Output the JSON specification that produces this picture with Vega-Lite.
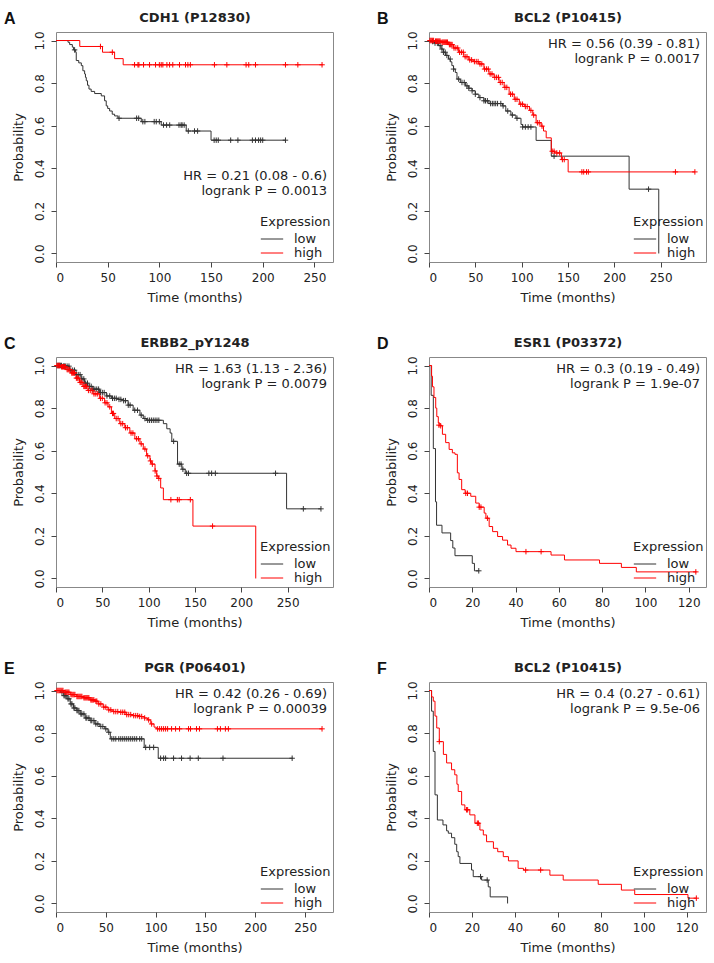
{
"$schema":"https://vega.github.io/schema/vega-lite/v6.json",
"padding":{"left":3,"top":10,"right":2,"bottom":2},
"config":{
 "font":"DejaVu Sans",
 "view":{"stroke":"#888888","strokeWidth":1},
 "axis":{"domain":false,"grid":false,"tickSize":5,"tickColor":"#444","labelFontSize":12,"labelColor":"#222","titleFontSize":13,"titleFontWeight":"normal","titleColor":"#222","labelPadding":5,"titlePadding":8},
 "axisY":{"labelAngle":-90,"labelAlign":"center","labelBaseline":"bottom","labelPadding":5,"titlePadding":8},
 "axisTop":{"titleFontWeight":"bold","titleFontSize":13,"titlePadding":8,"labels":false,"ticks":false,"domain":false},
 "legend":{"orient":"bottom-right","offset":2,"titleFontSize":13,"titleFontWeight":"normal","labelFontSize":13,"symbolType":"stroke","symbolSize":500,"symbolStrokeWidth":1,"rowPadding":0,"clipHeight":14,"titlePadding":3,"labelOffset":10,"titleColor":"#222","labelColor":"#222"},
 "title":{"anchor":"start","frame":"bounds","fontSize":16,"font":"Liberation Sans","fontWeight":"bold","offset":-16,"dx":-8,"color":"#111"}
},
"datasets":{
"A_curve":[
{"g":"low","t":0,"s":1},{"g":"low","t":11.6,"s":0.992},{"g":"low","t":13.2,"s":0.981},{"g":"low","t":15.8,"s":0.969},{"g":"low","t":17,"s":0.956},{"g":"low","t":19,"s":0.945},{"g":"low","t":19.6,"s":0.906},{"g":"low","t":22,"s":0.895},{"g":"low","t":24.5,"s":0.882},{"g":"low","t":26,"s":0.858},{"g":"low","t":27.7,"s":0.843},{"g":"low","t":28.5,"s":0.827},{"g":"low","t":29.3,"s":0.811},{"g":"low","t":30.5,"s":0.79},{"g":"low","t":31.9,"s":0.772},{"g":"low","t":34,"s":0.761},{"g":"low","t":37.4,"s":0.751},{"g":"low","t":43.8,"s":0.74},{"g":"low","t":47,"s":0.717},{"g":"low","t":48.6,"s":0.693},{"g":"low","t":50,"s":0.681},{"g":"low","t":51.9,"s":0.669},{"g":"low","t":54.4,"s":0.654},{"g":"low","t":56.7,"s":0.646},{"g":"low","t":59.9,"s":0.635},{"g":"low","t":82.5,"s":0.619},{"g":"low","t":101.8,"s":0.603},{"g":"low","t":126,"s":0.575},{"g":"low","t":150,"s":0.532},{"g":"low","t":222,"s":0.532},
{"g":"high","t":0,"s":1},{"g":"high","t":23,"s":0.972},{"g":"high","t":45,"s":0.945},{"g":"high","t":56.7,"s":0.915},{"g":"high","t":65,"s":0.886},{"g":"high","t":258,"s":0.886}],
"A_cens":[
{"g":"low","t":18,"s":0.956},{"g":"low","t":61,"s":0.635},{"g":"low","t":78,"s":0.635},{"g":"low","t":80,"s":0.635},{"g":"low","t":84,"s":0.619},{"g":"low","t":86,"s":0.619},{"g":"low","t":95,"s":0.619},{"g":"low","t":97,"s":0.619},{"g":"low","t":100,"s":0.619},{"g":"low","t":104,"s":0.603},{"g":"low","t":107,"s":0.603},{"g":"low","t":110,"s":0.603},{"g":"low","t":119,"s":0.603},{"g":"low","t":121,"s":0.603},{"g":"low","t":122,"s":0.603},{"g":"low","t":124,"s":0.603},{"g":"low","t":128,"s":0.575},{"g":"low","t":134,"s":0.575},{"g":"low","t":137,"s":0.575},{"g":"low","t":153,"s":0.532},{"g":"low","t":155,"s":0.532},{"g":"low","t":157,"s":0.532},{"g":"low","t":169,"s":0.532},{"g":"low","t":176,"s":0.532},{"g":"low","t":190,"s":0.532},{"g":"low","t":193,"s":0.532},{"g":"low","t":196,"s":0.532},{"g":"low","t":198,"s":0.532},{"g":"low","t":200,"s":0.532},{"g":"low","t":222,"s":0.532},
{"g":"high","t":43,"s":0.972},{"g":"high","t":54.5,"s":0.945},{"g":"high","t":76,"s":0.886},{"g":"high","t":79.3,"s":0.886},{"g":"high","t":80.2,"s":0.886},{"g":"high","t":84.7,"s":0.886},{"g":"high","t":90.5,"s":0.886},{"g":"high","t":96.3,"s":0.886},{"g":"high","t":100,"s":0.886},{"g":"high","t":101.8,"s":0.886},{"g":"high","t":103.4,"s":0.886},{"g":"high","t":107.3,"s":0.886},{"g":"high","t":109.9,"s":0.886},{"g":"high","t":113,"s":0.886},{"g":"high","t":119.5,"s":0.886},{"g":"high","t":125.3,"s":0.886},{"g":"high","t":127.6,"s":0.886},{"g":"high","t":130,"s":0.886},{"g":"high","t":153.3,"s":0.886},{"g":"high","t":165.3,"s":0.886},{"g":"high","t":183.9,"s":0.886},{"g":"high","t":186.5,"s":0.886},{"g":"high","t":193,"s":0.886},{"g":"high","t":222,"s":0.886},{"g":"high","t":234,"s":0.886},{"g":"high","t":257.4,"s":0.886}],
"B_curve":[
{"g":"low","t":0,"s":1},{"g":"low","t":3,"s":0.995},{"g":"low","t":6,"s":0.988},{"g":"low","t":10.2,"s":0.976},{"g":"low","t":13,"s":0.96},{"g":"low","t":15.6,"s":0.945},{"g":"low","t":18,"s":0.93},{"g":"low","t":21.1,"s":0.913},{"g":"low","t":23,"s":0.9},{"g":"low","t":24.7,"s":0.882},{"g":"low","t":26.5,"s":0.866},{"g":"low","t":28.4,"s":0.85},{"g":"low","t":30.2,"s":0.819},{"g":"low","t":33.8,"s":0.803},{"g":"low","t":39.3,"s":0.787},{"g":"low","t":43,"s":0.776},{"g":"low","t":46.5,"s":0.764},{"g":"low","t":50,"s":0.748},{"g":"low","t":53.8,"s":0.732},{"g":"low","t":59.3,"s":0.717},{"g":"low","t":64.7,"s":0.704},{"g":"low","t":79.3,"s":0.693},{"g":"low","t":82.9,"s":0.669},{"g":"low","t":88.4,"s":0.65},{"g":"low","t":93.8,"s":0.635},{"g":"low","t":99.3,"s":0.606},{"g":"low","t":101.1,"s":0.594},{"g":"low","t":115.6,"s":0.531},{"g":"low","t":132,"s":0.457},{"g":"low","t":216,"s":0.302},{"g":"low","t":248,"s":0},
{"g":"high","t":0,"s":1},{"g":"high","t":6.5,"s":0.997},{"g":"high","t":13.8,"s":0.992},{"g":"high","t":21.1,"s":0.981},{"g":"high","t":26.5,"s":0.965},{"g":"high","t":32,"s":0.945},{"g":"high","t":37.5,"s":0.924},{"g":"high","t":42.9,"s":0.909},{"g":"high","t":48.4,"s":0.901},{"g":"high","t":53.8,"s":0.89},{"g":"high","t":59.3,"s":0.866},{"g":"high","t":64.7,"s":0.843},{"g":"high","t":70.2,"s":0.827},{"g":"high","t":75.6,"s":0.803},{"g":"high","t":81.1,"s":0.78},{"g":"high","t":86.5,"s":0.748},{"g":"high","t":92,"s":0.724},{"g":"high","t":97.5,"s":0.701},{"g":"high","t":102.9,"s":0.69},{"g":"high","t":108.4,"s":0.672},{"g":"high","t":112,"s":0.65},{"g":"high","t":115.6,"s":0.614},{"g":"high","t":121,"s":0.598},{"g":"high","t":123.6,"s":0.575},{"g":"high","t":126.5,"s":0.543},{"g":"high","t":132,"s":0.48},{"g":"high","t":135.6,"s":0.472},{"g":"high","t":142.9,"s":0.441},{"g":"high","t":150.2,"s":0.383},{"g":"high","t":287,"s":0.383}],
"B_cens":[
{"g":"low","t":4,"s":0.995},{"g":"low","t":6.5,"s":0.988},{"g":"low","t":9,"s":0.988},{"g":"low","t":12,"s":0.976},{"g":"low","t":14,"s":0.96},{"g":"low","t":15.6,"s":0.945},{"g":"low","t":17.5,"s":0.945},{"g":"low","t":19.3,"s":0.93},{"g":"low","t":22.9,"s":0.913},{"g":"low","t":26.5,"s":0.866},{"g":"low","t":32,"s":0.819},{"g":"low","t":35.6,"s":0.803},{"g":"low","t":38,"s":0.803},{"g":"low","t":41,"s":0.787},{"g":"low","t":43,"s":0.776},{"g":"low","t":46.5,"s":0.764},{"g":"low","t":50,"s":0.748},{"g":"low","t":55,"s":0.732},{"g":"low","t":59.3,"s":0.717},{"g":"low","t":61,"s":0.717},{"g":"low","t":63,"s":0.717},{"g":"low","t":66.5,"s":0.704},{"g":"low","t":68.4,"s":0.704},{"g":"low","t":70.2,"s":0.704},{"g":"low","t":72,"s":0.704},{"g":"low","t":74,"s":0.704},{"g":"low","t":77.5,"s":0.704},{"g":"low","t":80,"s":0.693},{"g":"low","t":85,"s":0.669},{"g":"low","t":90,"s":0.65},{"g":"low","t":95,"s":0.635},{"g":"low","t":101.1,"s":0.594},{"g":"low","t":104,"s":0.594},{"g":"low","t":107,"s":0.594},{"g":"low","t":110,"s":0.594},{"g":"low","t":135,"s":0.457},{"g":"low","t":237,"s":0.302},
{"g":"high","t":1,"s":1},{"g":"high","t":2,"s":1},{"g":"high","t":3,"s":1},{"g":"high","t":4,"s":1},{"g":"high","t":5,"s":1},{"g":"high","t":7,"s":0.997},{"g":"high","t":8,"s":0.997},{"g":"high","t":9,"s":0.997},{"g":"high","t":10,"s":0.997},{"g":"high","t":11,"s":0.997},{"g":"high","t":12,"s":0.997},{"g":"high","t":14,"s":0.992},{"g":"high","t":15,"s":0.992},{"g":"high","t":16,"s":0.992},{"g":"high","t":17,"s":0.992},{"g":"high","t":18,"s":0.992},{"g":"high","t":19,"s":0.992},{"g":"high","t":20,"s":0.992},{"g":"high","t":22,"s":0.981},{"g":"high","t":23,"s":0.981},{"g":"high","t":24,"s":0.981},{"g":"high","t":25,"s":0.981},{"g":"high","t":27,"s":0.965},{"g":"high","t":29,"s":0.965},{"g":"high","t":31,"s":0.965},{"g":"high","t":33,"s":0.945},{"g":"high","t":35,"s":0.945},{"g":"high","t":37,"s":0.945},{"g":"high","t":39,"s":0.924},{"g":"high","t":41,"s":0.924},{"g":"high","t":44,"s":0.909},{"g":"high","t":46,"s":0.909},{"g":"high","t":49,"s":0.901},{"g":"high","t":51,"s":0.901},{"g":"high","t":53,"s":0.901},{"g":"high","t":55,"s":0.89},{"g":"high","t":57,"s":0.89},{"g":"high","t":60,"s":0.866},{"g":"high","t":62,"s":0.866},{"g":"high","t":64,"s":0.866},{"g":"high","t":66,"s":0.843},{"g":"high","t":68,"s":0.843},{"g":"high","t":71,"s":0.827},{"g":"high","t":73,"s":0.827},{"g":"high","t":75,"s":0.827},{"g":"high","t":77,"s":0.803},{"g":"high","t":79,"s":0.803},{"g":"high","t":82,"s":0.78},{"g":"high","t":84,"s":0.78},{"g":"high","t":88,"s":0.748},{"g":"high","t":90,"s":0.748},{"g":"high","t":93,"s":0.724},{"g":"high","t":95,"s":0.724},{"g":"high","t":99,"s":0.701},{"g":"high","t":101,"s":0.701},{"g":"high","t":104,"s":0.69},{"g":"high","t":106,"s":0.69},{"g":"high","t":110,"s":0.672},{"g":"high","t":113,"s":0.65},{"g":"high","t":117,"s":0.614},{"g":"high","t":119,"s":0.614},{"g":"high","t":122,"s":0.598},{"g":"high","t":133,"s":0.48},{"g":"high","t":135,"s":0.48},{"g":"high","t":138,"s":0.472},{"g":"high","t":141,"s":0.472},{"g":"high","t":144,"s":0.441},{"g":"high","t":146,"s":0.441},{"g":"high","t":165,"s":0.383},{"g":"high","t":167,"s":0.383},{"g":"high","t":170,"s":0.383},{"g":"high","t":172,"s":0.383},{"g":"high","t":266,"s":0.383},{"g":"high","t":287,"s":0.383}],
"C_curve":[
{"g":"low","t":0,"s":1},{"g":"low","t":7.2,"s":0.997},{"g":"low","t":14.5,"s":0.978},{"g":"low","t":21.7,"s":0.957},{"g":"low","t":27.2,"s":0.937},{"g":"low","t":30.8,"s":0.917},{"g":"low","t":34.4,"s":0.902},{"g":"low","t":39.9,"s":0.889},{"g":"low","t":47.1,"s":0.873},{"g":"low","t":54.3,"s":0.857},{"g":"low","t":59.8,"s":0.846},{"g":"low","t":67,"s":0.841},{"g":"low","t":72.5,"s":0.835},{"g":"low","t":77.9,"s":0.814},{"g":"low","t":83.3,"s":0.79},{"g":"low","t":90.6,"s":0.767},{"g":"low","t":94.2,"s":0.751},{"g":"low","t":97.8,"s":0.743},{"g":"low","t":115.9,"s":0.727},{"g":"low","t":119.6,"s":0.703},{"g":"low","t":123.2,"s":0.683},{"g":"low","t":125,"s":0.644},{"g":"low","t":131.2,"s":0.537},{"g":"low","t":135.9,"s":0.513},{"g":"low","t":139.5,"s":0.494},{"g":"low","t":248.9,"s":0.327},{"g":"low","t":286,"s":0.327},
{"g":"high","t":0,"s":1},{"g":"high","t":5.4,"s":0.994},{"g":"high","t":10.9,"s":0.981},{"g":"high","t":16.3,"s":0.965},{"g":"high","t":21.7,"s":0.941},{"g":"high","t":25.4,"s":0.921},{"g":"high","t":29,"s":0.902},{"g":"high","t":34.4,"s":0.883},{"g":"high","t":39.9,"s":0.867},{"g":"high","t":47.1,"s":0.846},{"g":"high","t":52.5,"s":0.825},{"g":"high","t":56.2,"s":0.806},{"g":"high","t":59.8,"s":0.775},{"g":"high","t":63.4,"s":0.751},{"g":"high","t":68.8,"s":0.727},{"g":"high","t":74.3,"s":0.708},{"g":"high","t":79.7,"s":0.683},{"g":"high","t":85.1,"s":0.656},{"g":"high","t":90.6,"s":0.632},{"g":"high","t":94.2,"s":0.608},{"g":"high","t":97.8,"s":0.576},{"g":"high","t":101.4,"s":0.552},{"g":"high","t":103.3,"s":0.537},{"g":"high","t":106.9,"s":0.505},{"g":"high","t":108.7,"s":0.481},{"g":"high","t":110.5,"s":0.47},{"g":"high","t":113,"s":0.425},{"g":"high","t":115.9,"s":0.37},{"g":"high","t":147.8,"s":0.246},{"g":"high","t":215.6,"s":0}],
"C_cens":[
{"g":"low","t":2,"s":1},{"g":"low","t":3,"s":1},{"g":"low","t":4,"s":1},{"g":"low","t":5,"s":1},{"g":"low","t":6,"s":1},{"g":"low","t":8,"s":0.997},{"g":"low","t":9,"s":0.997},{"g":"low","t":10,"s":0.997},{"g":"low","t":12,"s":0.997},{"g":"low","t":14,"s":0.997},{"g":"low","t":16,"s":0.978},{"g":"low","t":18,"s":0.978},{"g":"low","t":20,"s":0.978},{"g":"low","t":22,"s":0.957},{"g":"low","t":24,"s":0.957},{"g":"low","t":26,"s":0.957},{"g":"low","t":28,"s":0.937},{"g":"low","t":30,"s":0.937},{"g":"low","t":32,"s":0.917},{"g":"low","t":34,"s":0.917},{"g":"low","t":36,"s":0.902},{"g":"low","t":38,"s":0.902},{"g":"low","t":40,"s":0.889},{"g":"low","t":42,"s":0.889},{"g":"low","t":44,"s":0.889},{"g":"low","t":46,"s":0.889},{"g":"low","t":48,"s":0.873},{"g":"low","t":50,"s":0.873},{"g":"low","t":52,"s":0.873},{"g":"low","t":55,"s":0.857},{"g":"low","t":58,"s":0.857},{"g":"low","t":61,"s":0.846},{"g":"low","t":63,"s":0.846},{"g":"low","t":65,"s":0.846},{"g":"low","t":68,"s":0.841},{"g":"low","t":70,"s":0.841},{"g":"low","t":73,"s":0.835},{"g":"low","t":75,"s":0.835},{"g":"low","t":78,"s":0.814},{"g":"low","t":80,"s":0.814},{"g":"low","t":85,"s":0.79},{"g":"low","t":88,"s":0.79},{"g":"low","t":92,"s":0.767},{"g":"low","t":96,"s":0.751},{"g":"low","t":99,"s":0.743},{"g":"low","t":101,"s":0.743},{"g":"low","t":103,"s":0.743},{"g":"low","t":105,"s":0.743},{"g":"low","t":107,"s":0.743},{"g":"low","t":109,"s":0.743},{"g":"low","t":111,"s":0.743},{"g":"low","t":127,"s":0.644},{"g":"low","t":133,"s":0.537},{"g":"low","t":135,"s":0.537},{"g":"low","t":137,"s":0.513},{"g":"low","t":141,"s":0.494},{"g":"low","t":143,"s":0.494},{"g":"low","t":165,"s":0.494},{"g":"low","t":168,"s":0.494},{"g":"low","t":172,"s":0.494},{"g":"low","t":237,"s":0.494},{"g":"low","t":267,"s":0.327},{"g":"low","t":286,"s":0.327},
{"g":"high","t":1,"s":1},{"g":"high","t":2,"s":1},{"g":"high","t":3,"s":1},{"g":"high","t":4,"s":1},{"g":"high","t":6,"s":0.994},{"g":"high","t":7,"s":0.994},{"g":"high","t":8,"s":0.994},{"g":"high","t":9,"s":0.994},{"g":"high","t":10,"s":0.994},{"g":"high","t":12,"s":0.981},{"g":"high","t":13,"s":0.981},{"g":"high","t":14,"s":0.981},{"g":"high","t":15,"s":0.981},{"g":"high","t":17,"s":0.965},{"g":"high","t":18,"s":0.965},{"g":"high","t":19,"s":0.965},{"g":"high","t":20,"s":0.965},{"g":"high","t":22,"s":0.941},{"g":"high","t":23,"s":0.941},{"g":"high","t":24,"s":0.941},{"g":"high","t":26,"s":0.921},{"g":"high","t":27,"s":0.921},{"g":"high","t":28,"s":0.921},{"g":"high","t":30,"s":0.902},{"g":"high","t":31,"s":0.902},{"g":"high","t":32,"s":0.902},{"g":"high","t":33,"s":0.902},{"g":"high","t":35,"s":0.883},{"g":"high","t":37,"s":0.883},{"g":"high","t":39,"s":0.883},{"g":"high","t":41,"s":0.867},{"g":"high","t":43,"s":0.867},{"g":"high","t":45,"s":0.867},{"g":"high","t":48,"s":0.846},{"g":"high","t":50,"s":0.846},{"g":"high","t":53,"s":0.825},{"g":"high","t":55,"s":0.825},{"g":"high","t":58,"s":0.806},{"g":"high","t":61,"s":0.775},{"g":"high","t":62,"s":0.775},{"g":"high","t":65,"s":0.751},{"g":"high","t":67,"s":0.751},{"g":"high","t":70,"s":0.727},{"g":"high","t":72,"s":0.727},{"g":"high","t":75,"s":0.708},{"g":"high","t":77,"s":0.708},{"g":"high","t":81,"s":0.683},{"g":"high","t":83,"s":0.683},{"g":"high","t":87,"s":0.656},{"g":"high","t":89,"s":0.656},{"g":"high","t":92,"s":0.632},{"g":"high","t":96,"s":0.608},{"g":"high","t":99,"s":0.576},{"g":"high","t":102,"s":0.552},{"g":"high","t":104,"s":0.537},{"g":"high","t":107,"s":0.505},{"g":"high","t":109,"s":0.481},{"g":"high","t":111,"s":0.47},{"g":"high","t":124,"s":0.37},{"g":"high","t":131,"s":0.37},{"g":"high","t":133,"s":0.37},{"g":"high","t":145,"s":0.37},{"g":"high","t":169,"s":0.246}],
"D_curve":[
{"g":"low","t":0,"s":1},{"g":"low","t":1,"s":0.86},{"g":"low","t":2,"s":0.61},{"g":"low","t":3,"s":0.36},{"g":"low","t":3.5,"s":0.25},{"g":"low","t":6,"s":0.214},{"g":"low","t":10,"s":0.178},{"g":"low","t":11,"s":0.143},{"g":"low","t":12,"s":0.107},{"g":"low","t":20,"s":0.071},{"g":"low","t":21,"s":0.036},{"g":"low","t":23,"s":0.036},
{"g":"high","t":0,"s":1},{"g":"high","t":1.2,"s":0.95},{"g":"high","t":1.6,"s":0.9},{"g":"high","t":2.3,"s":0.85},{"g":"high","t":3.1,"s":0.8},{"g":"high","t":3.6,"s":0.76},{"g":"high","t":4.3,"s":0.73},{"g":"high","t":5,"s":0.717},{"g":"high","t":6.2,"s":0.677},{"g":"high","t":7.7,"s":0.638},{"g":"high","t":9.3,"s":0.606},{"g":"high","t":10.8,"s":0.59},{"g":"high","t":12,"s":0.583},{"g":"high","t":13.1,"s":0.496},{"g":"high","t":13.9,"s":0.465},{"g":"high","t":15.1,"s":0.417},{"g":"high","t":16.7,"s":0.4},{"g":"high","t":19.3,"s":0.386},{"g":"high","t":21.6,"s":0.354},{"g":"high","t":23.2,"s":0.335},{"g":"high","t":25.5,"s":0.307},{"g":"high","t":26.3,"s":0.283},{"g":"high","t":27.8,"s":0.244},{"g":"high","t":29.4,"s":0.22},{"g":"high","t":31.7,"s":0.197},{"g":"high","t":34,"s":0.18},{"g":"high","t":36.3,"s":0.157},{"g":"high","t":37.9,"s":0.142},{"g":"high","t":40.2,"s":0.126},{"g":"high","t":56.4,"s":0.11},{"g":"high","t":62.6,"s":0.087},{"g":"high","t":78.8,"s":0.071},{"g":"high","t":88.9,"s":0.052},{"g":"high","t":95.8,"s":0.031},{"g":"high","t":123.6,"s":0.031}],
"D_cens":[
{"g":"low","t":23,"s":0.036},
{"g":"high","t":4.6,"s":0.72},{"g":"high","t":5.4,"s":0.717},{"g":"high","t":17,"s":0.4},{"g":"high","t":17.8,"s":0.4},{"g":"high","t":23.2,"s":0.335},{"g":"high","t":24,"s":0.335},{"g":"high","t":27,"s":0.283},{"g":"high","t":44.8,"s":0.126},{"g":"high","t":51.8,"s":0.126},{"g":"high","t":123.3,"s":0.031}],
"E_curve":[
{"g":"low","t":0,"s":1},{"g":"low","t":4.4,"s":0.992},{"g":"low","t":7.7,"s":0.976},{"g":"low","t":11,"s":0.961},{"g":"low","t":14.3,"s":0.937},{"g":"low","t":17.6,"s":0.918},{"g":"low","t":20.9,"s":0.906},{"g":"low","t":24.2,"s":0.89},{"g":"low","t":29.2,"s":0.871},{"g":"low","t":34.1,"s":0.859},{"g":"low","t":39,"s":0.843},{"g":"low","t":44,"s":0.831},{"g":"low","t":48.9,"s":0.82},{"g":"low","t":52.2,"s":0.804},{"g":"low","t":54.5,"s":0.773},{"g":"low","t":88.5,"s":0.733},{"g":"low","t":102.6,"s":0.682},{"g":"low","t":237.7,"s":0.682},
{"g":"high","t":0,"s":1},{"g":"high","t":7.7,"s":0.992},{"g":"high","t":14.3,"s":0.981},{"g":"high","t":20.9,"s":0.972},{"g":"high","t":27.5,"s":0.966},{"g":"high","t":34.1,"s":0.956},{"g":"high","t":39,"s":0.95},{"g":"high","t":42.3,"s":0.937},{"g":"high","t":47.3,"s":0.922},{"g":"high","t":52.2,"s":0.909},{"g":"high","t":57.2,"s":0.901},{"g":"high","t":63.8,"s":0.898},{"g":"high","t":70.3,"s":0.887},{"g":"high","t":76.9,"s":0.882},{"g":"high","t":83.5,"s":0.878},{"g":"high","t":88.5,"s":0.871},{"g":"high","t":91.8,"s":0.862},{"g":"high","t":95.1,"s":0.843},{"g":"high","t":98.4,"s":0.828},{"g":"high","t":100.7,"s":0.82},{"g":"high","t":267,"s":0.82}],
"E_cens":[
{"g":"low","t":6,"s":0.992},{"g":"low","t":8,"s":0.976},{"g":"low","t":9,"s":0.976},{"g":"low","t":10,"s":0.976},{"g":"low","t":12,"s":0.961},{"g":"low","t":13,"s":0.961},{"g":"low","t":15,"s":0.937},{"g":"low","t":16,"s":0.937},{"g":"low","t":18,"s":0.918},{"g":"low","t":19,"s":0.918},{"g":"low","t":21,"s":0.906},{"g":"low","t":22,"s":0.906},{"g":"low","t":23,"s":0.906},{"g":"low","t":25,"s":0.89},{"g":"low","t":26,"s":0.89},{"g":"low","t":28,"s":0.89},{"g":"low","t":30,"s":0.871},{"g":"low","t":31,"s":0.871},{"g":"low","t":33,"s":0.871},{"g":"low","t":35,"s":0.859},{"g":"low","t":36,"s":0.859},{"g":"low","t":38,"s":0.859},{"g":"low","t":40,"s":0.843},{"g":"low","t":42,"s":0.843},{"g":"low","t":45,"s":0.831},{"g":"low","t":47,"s":0.831},{"g":"low","t":50,"s":0.82},{"g":"low","t":53,"s":0.804},{"g":"low","t":56,"s":0.773},{"g":"low","t":58,"s":0.773},{"g":"low","t":60,"s":0.773},{"g":"low","t":63,"s":0.773},{"g":"low","t":65,"s":0.773},{"g":"low","t":67,"s":0.773},{"g":"low","t":69,"s":0.773},{"g":"low","t":71,"s":0.773},{"g":"low","t":73,"s":0.773},{"g":"low","t":75,"s":0.773},{"g":"low","t":77,"s":0.773},{"g":"low","t":79,"s":0.773},{"g":"low","t":81,"s":0.773},{"g":"low","t":84,"s":0.773},{"g":"low","t":86,"s":0.773},{"g":"low","t":90,"s":0.733},{"g":"low","t":94,"s":0.733},{"g":"low","t":98,"s":0.733},{"g":"low","t":105,"s":0.682},{"g":"low","t":108,"s":0.682},{"g":"low","t":110,"s":0.682},{"g":"low","t":118,"s":0.682},{"g":"low","t":126,"s":0.682},{"g":"low","t":134.6,"s":0.682},{"g":"low","t":142.8,"s":0.682},{"g":"low","t":167.6,"s":0.682},{"g":"low","t":237,"s":0.682},
{"g":"high","t":1,"s":1},{"g":"high","t":2,"s":1},{"g":"high","t":3,"s":1},{"g":"high","t":4,"s":1},{"g":"high","t":5,"s":1},{"g":"high","t":6,"s":1},{"g":"high","t":7,"s":1},{"g":"high","t":9,"s":0.992},{"g":"high","t":10,"s":0.992},{"g":"high","t":11,"s":0.992},{"g":"high","t":12,"s":0.992},{"g":"high","t":13,"s":0.992},{"g":"high","t":15,"s":0.981},{"g":"high","t":16,"s":0.981},{"g":"high","t":17,"s":0.981},{"g":"high","t":18,"s":0.981},{"g":"high","t":19,"s":0.981},{"g":"high","t":21,"s":0.972},{"g":"high","t":22,"s":0.972},{"g":"high","t":23,"s":0.972},{"g":"high","t":24,"s":0.972},{"g":"high","t":25,"s":0.972},{"g":"high","t":26,"s":0.972},{"g":"high","t":28,"s":0.966},{"g":"high","t":29,"s":0.966},{"g":"high","t":30,"s":0.966},{"g":"high","t":31,"s":0.966},{"g":"high","t":32,"s":0.966},{"g":"high","t":33,"s":0.966},{"g":"high","t":35,"s":0.956},{"g":"high","t":36,"s":0.956},{"g":"high","t":37,"s":0.956},{"g":"high","t":38,"s":0.956},{"g":"high","t":40,"s":0.95},{"g":"high","t":41,"s":0.95},{"g":"high","t":43,"s":0.937},{"g":"high","t":45,"s":0.937},{"g":"high","t":48,"s":0.922},{"g":"high","t":50,"s":0.922},{"g":"high","t":53,"s":0.909},{"g":"high","t":55,"s":0.909},{"g":"high","t":58,"s":0.901},{"g":"high","t":60,"s":0.901},{"g":"high","t":62,"s":0.901},{"g":"high","t":65,"s":0.898},{"g":"high","t":67,"s":0.898},{"g":"high","t":69,"s":0.898},{"g":"high","t":71,"s":0.887},{"g":"high","t":73,"s":0.887},{"g":"high","t":75,"s":0.887},{"g":"high","t":78,"s":0.882},{"g":"high","t":80,"s":0.882},{"g":"high","t":82,"s":0.882},{"g":"high","t":84,"s":0.878},{"g":"high","t":86,"s":0.878},{"g":"high","t":89,"s":0.871},{"g":"high","t":93,"s":0.862},{"g":"high","t":96,"s":0.843},{"g":"high","t":102,"s":0.82},{"g":"high","t":104,"s":0.82},{"g":"high","t":106,"s":0.82},{"g":"high","t":108,"s":0.82},{"g":"high","t":110,"s":0.82},{"g":"high","t":112,"s":0.82},{"g":"high","t":116,"s":0.82},{"g":"high","t":120,"s":0.82},{"g":"high","t":124,"s":0.82},{"g":"high","t":133,"s":0.82},{"g":"high","t":135,"s":0.82},{"g":"high","t":141,"s":0.82},{"g":"high","t":144,"s":0.82},{"g":"high","t":162,"s":0.82},{"g":"high","t":165,"s":0.82},{"g":"high","t":170,"s":0.82},{"g":"high","t":173,"s":0.82},{"g":"high","t":267,"s":0.82}],
"F_curve":[
{"g":"low","t":0,"s":1},{"g":"low","t":1.2,"s":0.903},{"g":"low","t":2,"s":0.714},{"g":"low","t":2.8,"s":0.51},{"g":"low","t":3.9,"s":0.392},{"g":"low","t":6.5,"s":0.369},{"g":"low","t":8.2,"s":0.341},{"g":"low","t":9,"s":0.33},{"g":"low","t":10.5,"s":0.309},{"g":"low","t":12,"s":0.278},{"g":"low","t":12.9,"s":0.243},{"g":"low","t":13.6,"s":0.22},{"g":"low","t":14.4,"s":0.188},{"g":"low","t":19.8,"s":0.157},{"g":"low","t":20.6,"s":0.126},{"g":"low","t":24.5,"s":0.11},{"g":"low","t":27.6,"s":0.078},{"g":"low","t":28.5,"s":0.031},{"g":"low","t":36.6,"s":0},
{"g":"high","t":0,"s":1},{"g":"high","t":1.2,"s":0.97},{"g":"high","t":2,"s":0.95},{"g":"high","t":2.8,"s":0.88},{"g":"high","t":3.6,"s":0.824},{"g":"high","t":4.8,"s":0.76},{"g":"high","t":6.7,"s":0.7},{"g":"high","t":8.2,"s":0.66},{"g":"high","t":10.5,"s":0.628},{"g":"high","t":12,"s":0.604},{"g":"high","t":13,"s":0.56},{"g":"high","t":13.6,"s":0.526},{"g":"high","t":15.2,"s":0.463},{"g":"high","t":16.7,"s":0.44},{"g":"high","t":19,"s":0.416},{"g":"high","t":21.4,"s":0.377},{"g":"high","t":23.7,"s":0.345},{"g":"high","t":25.3,"s":0.322},{"g":"high","t":26.8,"s":0.29},{"g":"high","t":30,"s":0.259},{"g":"high","t":32,"s":0.243},{"g":"high","t":34.6,"s":0.22},{"g":"high","t":37,"s":0.2},{"g":"high","t":41.5,"s":0.165},{"g":"high","t":44,"s":0.157},{"g":"high","t":56.3,"s":0.133},{"g":"high","t":62.5,"s":0.11},{"g":"high","t":78.8,"s":0.09},{"g":"high","t":89.6,"s":0.063},{"g":"high","t":95.8,"s":0.042},{"g":"high","t":120.6,"s":0.025},{"g":"high","t":124.5,"s":0.025}],
"F_cens":[
{"g":"low","t":24,"s":0.126},{"g":"low","t":27.1,"s":0.11},
{"g":"high","t":4.8,"s":0.76},{"g":"high","t":17.5,"s":0.44},{"g":"high","t":18,"s":0.44},{"g":"high","t":22.5,"s":0.377},{"g":"high","t":23,"s":0.377},{"g":"high","t":45,"s":0.157},{"g":"high","t":52,"s":0.157},{"g":"high","t":124.5,"s":0.025}]
},
"columns":2,
"spacing":{"row":30,"column":42},
"resolve":{"scale":{"x":"independent","y":"independent","color":"independent"},"axis":{"x":"independent","y":"independent"},"legend":{"color":"independent"}},
"concat":[
{"width":277,"height":230,"title":{"text":"A"},"resolve":{"axis":{"x":"independent"}},
 "layer":[
  {"data":{"name":"A_curve"},"mark":{"type":"line","interpolate":"step-after","strokeWidth":1},
   "encoding":{"x":{"field":"t","type":"quantitative","scale":{"domain":[0,268],"nice":false,"zero":false},"axis":{"values":[0,50,100,150,200,250],"title":"Time (months)"}},
    "y":{"field":"s","type":"quantitative","title":"Probability","scale":{"domain":[-0.04,1.04],"nice":false,"zero":false},"axis":{"values":[0,0.2,0.4,0.6,0.8,1],"format":".1f","title":"Probability"}},
    "color":{"field":"g","type":"nominal","scale":{"domain":["low","high"],"range":["#333333","#ff0000"]},"legend":{"title":"Expression"}}}},
  {"data":{"name":"A_cens"},"mark":{"type":"point","shape":"M-1,0H1M0,-1V1","size":30,"strokeWidth":1,"filled":false,"opacity":1},
   "encoding":{"x":{"field":"t","type":"quantitative","axis":{"orient":"top","title":"CDH1 (P12830)"}},"y":{"field":"s","type":"quantitative","title":"Probability"},"color":{"field":"g","type":"nominal"}}},
  {"data":{"values":[{"label":["HR = 0.21 (0.08 - 0.6)","logrank P = 0.0013"]}]},"mark":{"type":"text","align":"right","baseline":"top","dx":-6,"dy":6,"fontSize":13,"lineHeight":15,"color":"#222"},
   "encoding":{"x":{"datum":268,"axis":null},"y":{"datum":0.42,"title":"Probability"},"text":{"field":"label"}}}
 ]},
{"width":277,"height":230,"title":{"text":"B"},"resolve":{"axis":{"x":"independent"}},
 "layer":[
  {"data":{"name":"B_curve"},"mark":{"type":"line","interpolate":"step-after","strokeWidth":1},
   "encoding":{"x":{"field":"t","type":"quantitative","scale":{"domain":[0,299],"nice":false,"zero":false},"axis":{"values":[0,50,100,150,200,250],"title":"Time (months)"}},
    "y":{"field":"s","type":"quantitative","title":"Probability","scale":{"domain":[-0.04,1.04],"nice":false,"zero":false},"axis":{"values":[0,0.2,0.4,0.6,0.8,1],"format":".1f","title":"Probability"}},
    "color":{"field":"g","type":"nominal","scale":{"domain":["low","high"],"range":["#333333","#ff0000"]},"legend":{"title":"Expression"}}}},
  {"data":{"name":"B_cens"},"mark":{"type":"point","shape":"M-1,0H1M0,-1V1","size":30,"strokeWidth":1,"filled":false,"opacity":1},
   "encoding":{"x":{"field":"t","type":"quantitative","axis":{"orient":"top","title":"BCL2 (P10415)"}},"y":{"field":"s","type":"quantitative","title":"Probability"},"color":{"field":"g","type":"nominal"}}},
  {"data":{"values":[{"label":["HR = 0.56 (0.39 - 0.81)","logrank P = 0.0017"]}]},"mark":{"type":"text","align":"right","baseline":"top","dx":-6,"dy":6,"fontSize":13,"lineHeight":15,"color":"#222"},
   "encoding":{"x":{"datum":299,"axis":null},"y":{"datum":1.04,"title":"Probability"},"text":{"field":"label"}}}
 ]},
{"width":277,"height":230,"title":{"text":"C"},"resolve":{"axis":{"x":"independent"}},
 "layer":[
  {"data":{"name":"C_curve"},"mark":{"type":"line","interpolate":"step-after","strokeWidth":1},
   "encoding":{"x":{"field":"t","type":"quantitative","scale":{"domain":[0,299],"nice":false,"zero":false},"axis":{"values":[0,50,100,150,200,250],"title":"Time (months)"}},
    "y":{"field":"s","type":"quantitative","title":"Probability","scale":{"domain":[-0.04,1.04],"nice":false,"zero":false},"axis":{"values":[0,0.2,0.4,0.6,0.8,1],"format":".1f","title":"Probability"}},
    "color":{"field":"g","type":"nominal","scale":{"domain":["low","high"],"range":["#333333","#ff0000"]},"legend":{"title":"Expression"}}}},
  {"data":{"name":"C_cens"},"mark":{"type":"point","shape":"M-1,0H1M0,-1V1","size":30,"strokeWidth":1,"filled":false,"opacity":1},
   "encoding":{"x":{"field":"t","type":"quantitative","axis":{"orient":"top","title":"ERBB2_pY1248"}},"y":{"field":"s","type":"quantitative","title":"Probability"},"color":{"field":"g","type":"nominal"}}},
  {"data":{"values":[{"label":["HR = 1.63 (1.13 - 2.36)","logrank P = 0.0079"]}]},"mark":{"type":"text","align":"right","baseline":"top","dx":-6,"dy":6,"fontSize":13,"lineHeight":15,"color":"#222"},
   "encoding":{"x":{"datum":299,"axis":null},"y":{"datum":1.04,"title":"Probability"},"text":{"field":"label"}}}
 ]},
{"width":277,"height":230,"title":{"text":"D"},"resolve":{"axis":{"x":"independent"}},
 "layer":[
  {"data":{"name":"D_curve"},"mark":{"type":"line","interpolate":"step-after","strokeWidth":1},
   "encoding":{"x":{"field":"t","type":"quantitative","scale":{"domain":[0,128],"nice":false,"zero":false},"axis":{"values":[0,20,40,60,80,100,120],"title":"Time (months)"}},
    "y":{"field":"s","type":"quantitative","title":"Probability","scale":{"domain":[-0.04,1.04],"nice":false,"zero":false},"axis":{"values":[0,0.2,0.4,0.6,0.8,1],"format":".1f","title":"Probability"}},
    "color":{"field":"g","type":"nominal","scale":{"domain":["low","high"],"range":["#333333","#ff0000"]},"legend":{"title":"Expression"}}}},
  {"data":{"name":"D_cens"},"mark":{"type":"point","shape":"M-1,0H1M0,-1V1","size":30,"strokeWidth":1,"filled":false,"opacity":1},
   "encoding":{"x":{"field":"t","type":"quantitative","axis":{"orient":"top","title":"ESR1 (P03372)"}},"y":{"field":"s","type":"quantitative","title":"Probability"},"color":{"field":"g","type":"nominal"}}},
  {"data":{"values":[{"label":["HR = 0.3 (0.19 - 0.49)","logrank P = 1.9e-07"]}]},"mark":{"type":"text","align":"right","baseline":"top","dx":-6,"dy":6,"fontSize":13,"lineHeight":15,"color":"#222"},
   "encoding":{"x":{"datum":128,"axis":null},"y":{"datum":1.04,"title":"Probability"},"text":{"field":"label"}}}
 ]},
{"width":277,"height":230,"title":{"text":"E"},"resolve":{"axis":{"x":"independent"}},
 "layer":[
  {"data":{"name":"E_curve"},"mark":{"type":"line","interpolate":"step-after","strokeWidth":1},
   "encoding":{"x":{"field":"t","type":"quantitative","scale":{"domain":[0,278],"nice":false,"zero":false},"axis":{"values":[0,50,100,150,200,250],"title":"Time (months)"}},
    "y":{"field":"s","type":"quantitative","title":"Probability","scale":{"domain":[-0.04,1.04],"nice":false,"zero":false},"axis":{"values":[0,0.2,0.4,0.6,0.8,1],"format":".1f","title":"Probability"}},
    "color":{"field":"g","type":"nominal","scale":{"domain":["low","high"],"range":["#333333","#ff0000"]},"legend":{"title":"Expression"}}}},
  {"data":{"name":"E_cens"},"mark":{"type":"point","shape":"M-1,0H1M0,-1V1","size":30,"strokeWidth":1,"filled":false,"opacity":1},
   "encoding":{"x":{"field":"t","type":"quantitative","axis":{"orient":"top","title":"PGR (P06401)"}},"y":{"field":"s","type":"quantitative","title":"Probability"},"color":{"field":"g","type":"nominal"}}},
  {"data":{"values":[{"label":["HR = 0.42 (0.26 - 0.69)","logrank P = 0.00039"]}]},"mark":{"type":"text","align":"right","baseline":"top","dx":-6,"dy":6,"fontSize":13,"lineHeight":15,"color":"#222"},
   "encoding":{"x":{"datum":278,"axis":null},"y":{"datum":1.04,"title":"Probability"},"text":{"field":"label"}}}
 ]},
{"width":277,"height":230,"title":{"text":"F"},"resolve":{"axis":{"x":"independent"}},
 "layer":[
  {"data":{"name":"F_curve"},"mark":{"type":"line","interpolate":"step-after","strokeWidth":1},
   "encoding":{"x":{"field":"t","type":"quantitative","scale":{"domain":[0,129],"nice":false,"zero":false},"axis":{"values":[0,20,40,60,80,100,120],"title":"Time (months)"}},
    "y":{"field":"s","type":"quantitative","title":"Probability","scale":{"domain":[-0.04,1.04],"nice":false,"zero":false},"axis":{"values":[0,0.2,0.4,0.6,0.8,1],"format":".1f","title":"Probability"}},
    "color":{"field":"g","type":"nominal","scale":{"domain":["low","high"],"range":["#333333","#ff0000"]},"legend":{"title":"Expression"}}}},
  {"data":{"name":"F_cens"},"mark":{"type":"point","shape":"M-1,0H1M0,-1V1","size":30,"strokeWidth":1,"filled":false,"opacity":1},
   "encoding":{"x":{"field":"t","type":"quantitative","axis":{"orient":"top","title":"BCL2 (P10415)"}},"y":{"field":"s","type":"quantitative","title":"Probability"},"color":{"field":"g","type":"nominal"}}},
  {"data":{"values":[{"label":["HR = 0.4 (0.27 - 0.61)","logrank P = 9.5e-06"]}]},"mark":{"type":"text","align":"right","baseline":"top","dx":-6,"dy":6,"fontSize":13,"lineHeight":15,"color":"#222"},
   "encoding":{"x":{"datum":129,"axis":null},"y":{"datum":1.04,"title":"Probability"},"text":{"field":"label"}}}
 ]}
]
}
